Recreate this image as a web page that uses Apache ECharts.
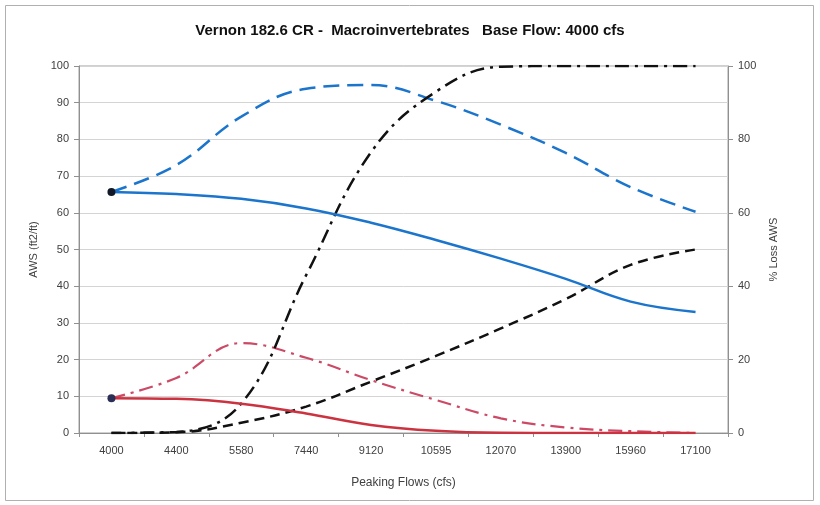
<!DOCTYPE html>
<html lang="en">
<head>
    <meta charset="UTF-8">
    <title>Vernon 182.6 CR</title>
    <script src="https://cdn.jsdelivr.net/npm/echarts@6/dist/echarts.min.js"></script>
    <style>
        html, body { margin: 0; padding: 0; background: #fff; }
        #chart { width: 820px; height: 505px; }
    </style>
</head>
<body>
    <div id="chart"></div>
    <script>
        // peaking flows (x categories)
        var flows = ['4000', '4400', '5580', '7440', '9120', '10595', '12070', '13900', '15960', '17100'];

        // AWS (ft2/ft), left axis
        var awsBlue = [65.7, 65.1, 63.8, 61.2, 57.3, 52.6, 47.5, 42, 35.8, 33];
        var awsBlueDash = [65.7, 73, 86.2, 93.8, 94.8, 90.5, 84, 76.3, 67, 60.3];
        var awsRed = [9.5, 9.3, 8, 5.3, 2.2, 0.6, 0.05, 0, 0, 0];
        var awsRedDash = [9.5, 15, 24.5, 20.5, 14.4, 9, 4, 1.5, 0.5, 0];

        // % loss AWS, right axis
        var lossDashDot = [0, 0.3, 8, 43, 76.5, 93, 99.8, 100, 100, 100];
        var lossDash = [0, 0.2, 2.8, 7.2, 14, 21, 28.5, 36.5, 45.8, 50];

        var labelFont = { color: '#404040', fontSize: 11, fontFamily: 'Liberation Sans' };

        // only the first point gets a dot
        function firstDot(val, params) {
            return params.dataIndex === 0 ? 8 : 0;
        }

        function line(name, data, axis, color, width, dash, dot) {
            return {
                name: name,
                type: 'line',
                yAxisIndex: axis,
                data: data,
                smooth: 0.4,
                symbol: 'circle',
                showSymbol: !!dot,
                showAllSymbol: true,
                symbolSize: firstDot,
                itemStyle: { color: dot || color },
                lineStyle: { color: color, width: width, type: dash },
                z: dot ? 3 : 2
            };
        }

        var chart = echarts.init(document.getElementById('chart'));
        chart.setOption({
            animation: false,
            backgroundColor: '#fff',
            title: {
                text: 'Vernon 182.6 CR -  Macroinvertebrates   Base Flow: 4000 cfs',
                left: 'center',
                top: 18,
                textStyle: { fontSize: 15, fontWeight: 'bold', color: '#111', fontFamily: 'Liberation Sans' }
            },
            graphic: [{
                type: 'rect',
                shape: { x: 5.5, y: 5.5, width: 808, height: 495 },
                style: { fill: 'none', stroke: '#b0b0b0', lineWidth: 1 },
                silent: true
            }],
            grid: { left: 79, right: 92, top: 66, bottom: 72, show: true, borderColor: '#a0a0a0', borderWidth: 1 },
            xAxis: {
                type: 'category',
                data: flows,
                name: 'Peaking Flows (cfs)',
                nameLocation: 'middle',
                nameGap: 44,
                nameTextStyle: { color: '#404040', fontSize: 12, fontFamily: 'Liberation Sans' },
                axisLine: { lineStyle: { color: '#909090' } },
                axisTick: { show: true, length: 4, lineStyle: { color: '#909090' } },
                axisLabel: Object.assign({ margin: 12 }, labelFont),
                splitLine: { show: false }
            },
            yAxis: [{
                type: 'value',
                min: 0, max: 100, interval: 10,
                name: 'AWS (ft2/ft)',
                nameLocation: 'middle',
                nameRotate: 90,
                nameGap: 37,
                nameTextStyle: { color: '#404040', fontSize: 11, fontFamily: 'Liberation Sans' },
                axisLine: { show: true, lineStyle: { color: '#909090' } },
                axisTick: { show: true, length: 5, lineStyle: { color: '#909090' } },
                axisLabel: Object.assign({ margin: 10 }, labelFont),
                splitLine: { lineStyle: { color: '#d4d4d4', width: 1 } }
            }, {
                type: 'value',
                position: 'right',
                min: 0, max: 100, interval: 20,
                name: '% Loss AWS',
                nameLocation: 'middle',
                nameRotate: 90,
                nameGap: 40,
                nameTextStyle: { color: '#404040', fontSize: 11, fontFamily: 'Liberation Sans' },
                axisLine: { show: true, lineStyle: { color: '#909090' } },
                axisTick: { show: true, length: 5, lineStyle: { color: '#909090' } },
                axisLabel: Object.assign({ margin: 10 }, labelFont),
                splitLine: { show: false }
            }],
            series: [
                line('AWS', awsBlue, 0, '#1b75cc', 2.5, 'solid', '#111827'),
                line('AWS max', awsBlueDash, 0, '#1b75cc', 2.5, [16, 8]),
                line('AWS red', awsRed, 0, '#cc3340', 2.5, 'solid', '#2a2f55'),
                line('AWS red max', awsRedDash, 0, '#cc4a66', 2.2, [14, 6, 3, 6]),
                line('% Loss', lossDashDot, 1, '#111111', 2.5, [14, 6, 3, 6]),
                line('% Loss 2', lossDash, 1, '#111111', 2.5, [10, 6])
            ]
        });
    </script>
</body>
</html>
